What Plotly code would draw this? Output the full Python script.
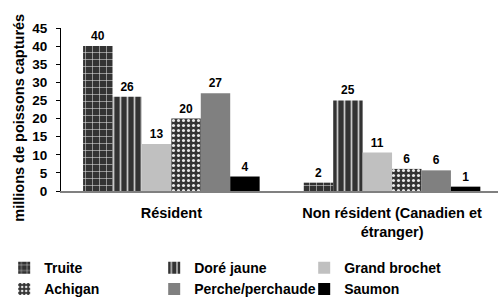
import plotly.graph_objects as go

categories = ["Résident", "Non résident (Canadien et étranger)"]
tick_labels = ["Résident", "Non résident (Canadien et<br>étranger)"]
species = ["Truite", "Doré jaune", "Grand brochet", "Achigan", "Perche/perchaude", "Saumon"]
truite = [40, 2.3]
dore_jaune = [26, 25]
grand_brochet = [13, 10.6]
achigan = [20, 6.1]
perche = [27, 5.7]
saumon = [4, 1.2]
series = [truite, dore_jaune, grand_brochet, achigan, perche, saumon]

FONT = "Liberation Sans, Arial, sans-serif"

styles = [
    dict(color="#333333", pattern=dict(shape="+", fgcolor="#e6e6e6", bgcolor="#333333", size=7, solidity=0.15, fillmode="replace")),
    dict(color="#333333", pattern=dict(shape="|", fgcolor="#c8c8c8", bgcolor="#333333", size=7, solidity=0.25, fillmode="replace")),
    dict(color="#c0c0c0"),
    dict(color="#333333", pattern=dict(shape=".", fgcolor="#e8e8e8", bgcolor="#333333", size=5, solidity=0.3, fillmode="replace")),
    dict(color="#808080"),
    dict(color="#000000"),
]

fig = go.Figure()
for name, vals, st in zip(species, series, styles):
    fig.add_trace(go.Bar(
        x=categories, y=vals, name=name,
        marker=dict(line=dict(width=0), **st),
        texttemplate="%{y:.0f}", textposition="outside",
        textfont=dict(family=FONT, size=12, color="#000000", weight="bold"),
        constraintext="none", cliponaxis=False,
    ))

fig.update_layout(
    width=498, height=298,
    margin=dict(l=61, r=0, t=28, b=107, pad=0, autoexpand=False),
    paper_bgcolor="white", plot_bgcolor="white",
    barmode="group", bargap=0.2, bargroupgap=0,
    font=dict(family=FONT, size=14, color="#000000", weight="bold"),
    showlegend=True,
    legend=dict(
        orientation="h", x=-0.13, xanchor="left", y=-0.375, yanchor="top",
        entrywidth=105, entrywidthmode="pixels",
        font=dict(family=FONT, size=14, color="#000000", weight="bold"),
        tracegroupgap=0, itemclick=False,
    ),
    xaxis=dict(
        categoryorder="array", categoryarray=categories,
        tickmode="array", tickvals=categories, ticktext=tick_labels,
        range=[-0.5, 1.48], showline=True, linecolor="#808080", linewidth=2,
        ticks="", showgrid=False, zeroline=False,
        tickfont=dict(family=FONT, size=14.5, color="#000000", weight="bold"),
        ticklabelstandoff=8,
    ),
    yaxis=dict(
        range=[0, 45], dtick=5, tick0=0, showline=True, linecolor="#000000", linewidth=1,
        ticks="outside", ticklen=4, tickcolor="#000000", showgrid=False, zeroline=False,
        tickfont=dict(family=FONT, size=13.5, color="#000000", weight="bold"),
        ticklabelstandoff=6,
    ),
    annotations=[dict(
        text="millions de poissons capturés", textangle=-90,
        xref="paper", yref="paper", x=-0.096, y=0.45, xanchor="center", yanchor="middle",
        showarrow=False, font=dict(family=FONT, size=14.5, color="#000000", weight="bold"),
    )],
)

fig.write_html("out.html", config={"displayModeBar": False},
               post_script="document.body.style.margin='0px';")
